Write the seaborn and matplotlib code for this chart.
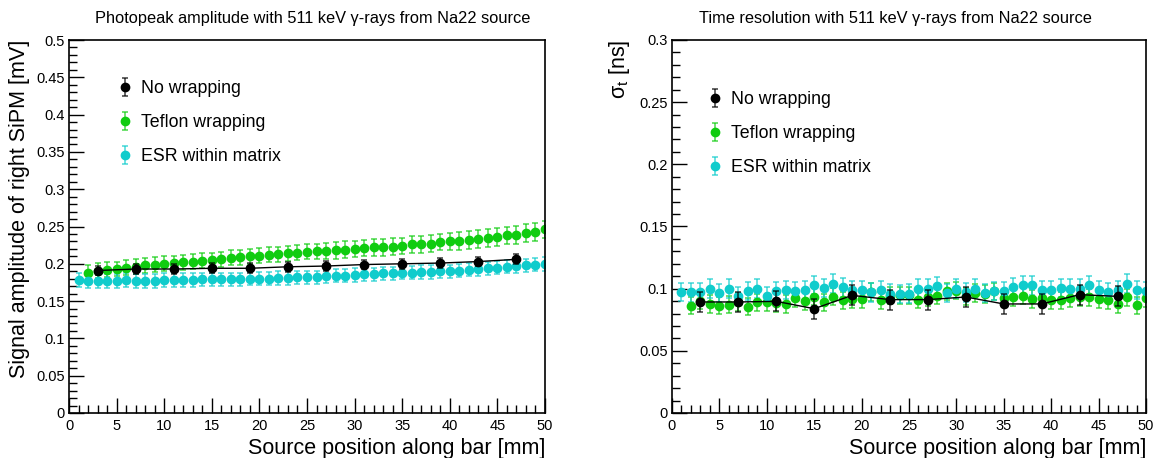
import numpy as np
import pandas as pd
import matplotlib
matplotlib.use("Agg")
import matplotlib.pyplot as plt
import seaborn as sns
from matplotlib.ticker import MultipleLocator, FuncFormatter

sns.set_style("ticks")
plt.rcParams["font.family"] = ["Liberation Sans", "DejaVu Sans"]
plt.rcParams["mathtext.fontset"] = "custom"
plt.rcParams["mathtext.rm"] = "Liberation Sans"
plt.rcParams["mathtext.it"] = "Liberation Sans:italic"
plt.rcParams["text.color"] = "black"
plt.rcParams["axes.labelcolor"] = "black"
plt.rcParams["xtick.color"] = "black"
plt.rcParams["ytick.color"] = "black"

# ---- data ----
pos_all = list(range(1, 51))          # ESR points
pos_teflon = list(range(2, 51))       # Teflon points
pos_nowrap = [3, 7, 11, 15, 19, 23, 27, 31, 35, 39, 43, 47]

# photopeak amplitude [mV]
amp_nowrap = [0.191, 0.193, 0.193, 0.194, 0.194, 0.196, 0.197, 0.199, 0.200, 0.201, 0.203, 0.206]
amp_nowrap_err = [0.0065] * 12
amp_teflon = [0.188, 0.191, 0.192, 0.193, 0.195, 0.196, 0.198, 0.199, 0.200, 0.201,
              0.202, 0.203, 0.204, 0.205, 0.206, 0.208, 0.209, 0.210, 0.211, 0.212,
              0.213, 0.214, 0.215, 0.216, 0.217, 0.217, 0.218, 0.219, 0.220, 0.221,
              0.222, 0.222, 0.223, 0.224, 0.226, 0.226, 0.227, 0.229, 0.230, 0.231,
              0.232, 0.233, 0.234, 0.236, 0.238, 0.239, 0.241, 0.243, 0.246]
amp_teflon_err = [0.010] * 25 + [0.011] * 14 + [0.012] * 10
amp_esr = [0.178, 0.177, 0.177, 0.177, 0.177, 0.178, 0.177, 0.177, 0.177, 0.178,
           0.178, 0.178, 0.178, 0.179, 0.179, 0.179, 0.179, 0.179, 0.180, 0.180,
           0.180, 0.181, 0.181, 0.182, 0.182, 0.182, 0.183, 0.184, 0.184, 0.185,
           0.186, 0.186, 0.187, 0.187, 0.188, 0.188, 0.189, 0.189, 0.190, 0.190,
           0.191, 0.192, 0.193, 0.194, 0.195, 0.196, 0.197, 0.198, 0.199, 0.200]
amp_esr_err = [0.009] * 50

# time resolution [ns]
sig_nowrap = [0.0893, 0.0893, 0.0898, 0.0839, 0.0946, 0.0912, 0.0912, 0.0933,
              0.0877, 0.0877, 0.0952, 0.0938]
sig_nowrap_err = [0.008] * 12
sig_teflon = [0.0863, 0.0904, 0.0877, 0.0863, 0.0871, 0.0893, 0.0855, 0.0890, 0.0890,
              0.0885, 0.0877, 0.0925, 0.0898, 0.0936, 0.0890, 0.0936, 0.0906, 0.0917,
              0.0914, 0.0973, 0.0906, 0.0944, 0.0946, 0.0946, 0.0912, 0.0933, 0.0944,
              0.0979, 0.0984, 0.0938, 0.0965, 0.0957, 0.0979, 0.0925, 0.0930, 0.0944,
              0.0917, 0.0925, 0.0906, 0.0906, 0.0925, 0.0930, 0.0930, 0.0917, 0.0906,
              0.0877, 0.0930, 0.0866, 0.0925]
sig_teflon_err = [0.007] * 49
sig_esr = [0.0973, 0.0970, 0.0970, 0.1000, 0.0965, 0.1000, 0.0940, 0.0980, 0.1000, 0.0940,
           0.0980, 0.0990, 0.0980, 0.0990, 0.1030, 0.1005, 0.1040, 0.1010, 0.0987, 0.0990,
           0.0970, 0.0990, 0.0960, 0.0957, 0.0960, 0.1000, 0.1000, 0.1020, 0.0965, 0.1000,
           0.0970, 0.1000, 0.0965, 0.0980, 0.0980, 0.1010, 0.1030, 0.1027, 0.0987, 0.0987,
           0.1005, 0.1000, 0.1000, 0.1030, 0.0990, 0.0970, 0.0990, 0.1040, 0.0990, 0.0980]
sig_esr_err = [0.0075] * 50

labels = ["No wrapping", "Teflon wrapping", "ESR within matrix"]
colors = ["black", "#10cc10", "#10cccc"]

fig = plt.figure(figsize=(11.55, 4.58), dpi=100)
ax1 = fig.add_axes([69 / 1155, 1 - 413 / 458, 476 / 1155, 373 / 458])
ax2 = fig.add_axes([672 / 1155, 1 - 413 / 458, 474 / 1155, 373 / 458])


def draw_panel(ax, series, ymax, ymajor, yminor):
    handles = []
    for (x, y, e), lab, c in zip(series, labels, colors):
        if lab == "No wrapping":
            df = pd.DataFrame({"x": x, "y": y})
            sns.lineplot(data=df, x="x", y="y", color="black", lw=1.0, ax=ax,
                         zorder=3, legend=False)
        h = ax.errorbar(x, y, yerr=e, fmt="o", ms=6, color=c, mec=c,
                        ecolor=c, elinewidth=1.2, capsize=2.2, capthick=1.2,
                        zorder=4 if c == "black" else 2, label=lab)
        for art in h.lines[1] + h.lines[2]:
            art.set_alpha(0.7)
        handles.append(h)
    ax.set_xlim(0, 50)
    ax.set_ylim(0, ymax)
    ax.xaxis.set_major_locator(MultipleLocator(5))
    ax.xaxis.set_minor_locator(MultipleLocator(1))
    ax.yaxis.set_major_locator(MultipleLocator(ymajor))
    ax.yaxis.set_minor_locator(MultipleLocator(yminor))
    ax.yaxis.set_major_formatter(FuncFormatter(lambda v, p: "%g" % round(v, 4)))
    ax.tick_params(which="major", direction="in", length=11, width=1.0,
                   labelsize=10.5, pad=3)
    ax.tick_params(axis="x", which="major", pad=4)
    ax.tick_params(which="minor", direction="in", length=5.5, width=1.0)
    for s in ax.spines.values():
        s.set_linewidth(1.2)
        s.set_color("black")
    ax.set_xlabel("Source position along bar [mm]", fontsize=15.5, loc="right")
    ax.xaxis.set_label_coords(1.0, -0.068)
    return handles


h1 = draw_panel(ax1, [(pos_nowrap, amp_nowrap, amp_nowrap_err),
                      (pos_teflon, amp_teflon, amp_teflon_err),
                      (pos_all, amp_esr, amp_esr_err)], 0.5, 0.05, 0.01)
h2 = draw_panel(ax2, [(pos_nowrap, sig_nowrap, sig_nowrap_err),
                      (pos_teflon, sig_teflon, sig_teflon_err),
                      (pos_all, sig_esr, sig_esr_err)], 0.3, 0.05, 0.01)

ax1.set_ylabel("Signal amplitude of right SiPM [mV]", fontsize=15.5, loc="top")
ax1.yaxis.set_label_coords(-0.082, 1.0)
ax2.set_ylabel("\u03c3$_{\\mathrm{t}}$ [ns]", fontsize=15.5, loc="top")
ax2.yaxis.set_label_coords(-0.085, 1.0)

ax1.legend(handles=h1, labels=labels, loc="upper left", frameon=False,
           bbox_to_anchor=(0.064, 0.935), fontsize=12.8, labelspacing=0.95,
           handlelength=1.1, handletextpad=0.35)
ax2.legend(handles=h2, labels=labels, loc="upper left", frameon=False,
           bbox_to_anchor=(0.037, 0.905), fontsize=12.8, labelspacing=0.95,
           handlelength=1.1, handletextpad=0.35)

fig.text(313 / 1155, 1 - 18 / 458,
         "Photopeak amplitude with 511 keV \u03b3-rays from Na22 source",
         ha="center", va="center", fontsize=11.8)
fig.text(895 / 1155, 1 - 18 / 458,
         "Time resolution with 511 keV \u03b3-rays from Na22 source",
         ha="center", va="center", fontsize=11.8)

fig.savefig("out.png", dpi=100)
